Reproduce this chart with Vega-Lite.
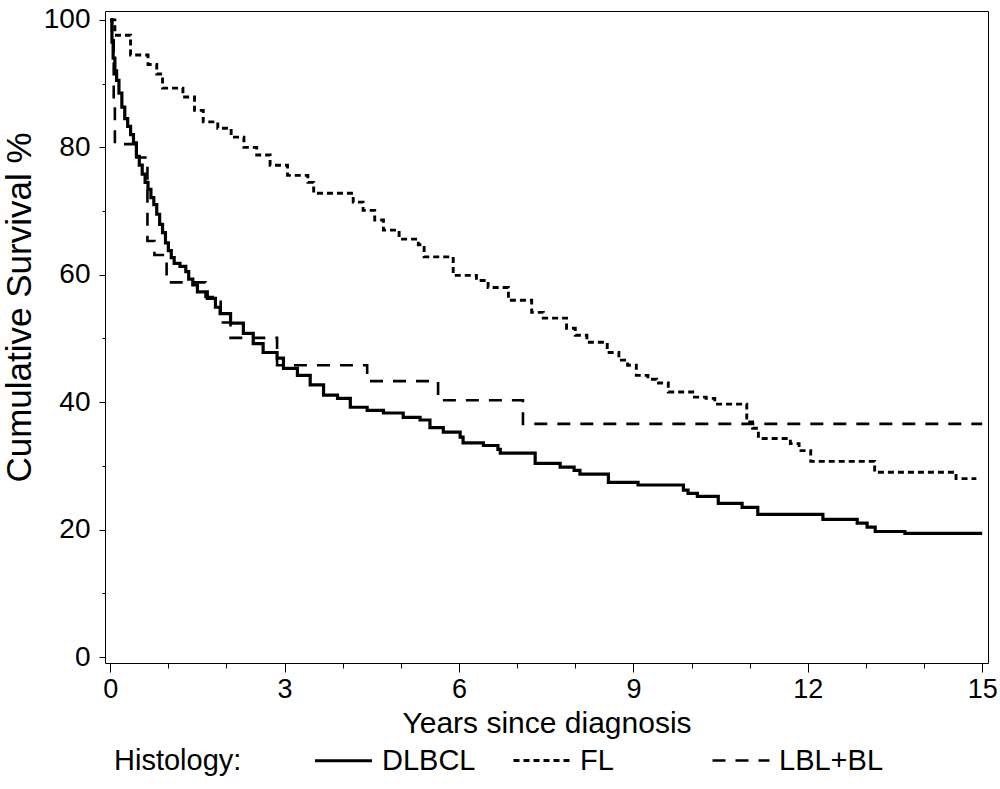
{
  "$schema": "https://vega.github.io/schema/vega-lite/v6.json",
  "width": 883,
  "height": 652,
  "autosize": {"type": "none"},
  "padding": {"left": 105, "top": 11, "right": 12, "bottom": 126},
  "background": "white",
  "data": {
    "values": [
      {"g": "DLBCL", "t": 0, "s": 100},
      {"g": "DLBCL", "t": 0.03, "s": 96.5},
      {"g": "DLBCL", "t": 0.05, "s": 94},
      {"g": "DLBCL", "t": 0.08, "s": 92},
      {"g": "DLBCL", "t": 0.11, "s": 90.5},
      {"g": "DLBCL", "t": 0.15, "s": 88.5},
      {"g": "DLBCL", "t": 0.2, "s": 86.3},
      {"g": "DLBCL", "t": 0.25, "s": 84.5},
      {"g": "DLBCL", "t": 0.3, "s": 83.3},
      {"g": "DLBCL", "t": 0.35, "s": 82},
      {"g": "DLBCL", "t": 0.4, "s": 80.7},
      {"g": "DLBCL", "t": 0.45, "s": 78.6},
      {"g": "DLBCL", "t": 0.5, "s": 77.2},
      {"g": "DLBCL", "t": 0.55, "s": 75.8},
      {"g": "DLBCL", "t": 0.6, "s": 74.5},
      {"g": "DLBCL", "t": 0.65, "s": 73.4},
      {"g": "DLBCL", "t": 0.7, "s": 72.1},
      {"g": "DLBCL", "t": 0.75, "s": 71},
      {"g": "DLBCL", "t": 0.8, "s": 69.5},
      {"g": "DLBCL", "t": 0.85, "s": 67.9},
      {"g": "DLBCL", "t": 0.9, "s": 66.6},
      {"g": "DLBCL", "t": 0.95, "s": 65},
      {"g": "DLBCL", "t": 1.0, "s": 63.8},
      {"g": "DLBCL", "t": 1.05, "s": 62.7},
      {"g": "DLBCL", "t": 1.1, "s": 61.8},
      {"g": "DLBCL", "t": 1.2, "s": 61.3},
      {"g": "DLBCL", "t": 1.3, "s": 60.5},
      {"g": "DLBCL", "t": 1.35, "s": 59.3},
      {"g": "DLBCL", "t": 1.42, "s": 58.4},
      {"g": "DLBCL", "t": 1.5, "s": 57.3},
      {"g": "DLBCL", "t": 1.67, "s": 56.3},
      {"g": "DLBCL", "t": 1.81, "s": 54.9},
      {"g": "DLBCL", "t": 1.89, "s": 53.9},
      {"g": "DLBCL", "t": 2.07, "s": 52.4},
      {"g": "DLBCL", "t": 2.29, "s": 50.8},
      {"g": "DLBCL", "t": 2.46, "s": 49.2},
      {"g": "DLBCL", "t": 2.63, "s": 47.8},
      {"g": "DLBCL", "t": 2.87, "s": 46.9},
      {"g": "DLBCL", "t": 2.98, "s": 45.3},
      {"g": "DLBCL", "t": 3.22, "s": 44.2},
      {"g": "DLBCL", "t": 3.44, "s": 42.7},
      {"g": "DLBCL", "t": 3.67, "s": 41.1},
      {"g": "DLBCL", "t": 3.91, "s": 40.6},
      {"g": "DLBCL", "t": 4.13, "s": 39.2},
      {"g": "DLBCL", "t": 4.42, "s": 38.7},
      {"g": "DLBCL", "t": 4.7, "s": 38.3},
      {"g": "DLBCL", "t": 5.04, "s": 37.6},
      {"g": "DLBCL", "t": 5.33, "s": 37.2},
      {"g": "DLBCL", "t": 5.5, "s": 36},
      {"g": "DLBCL", "t": 5.73, "s": 35.3},
      {"g": "DLBCL", "t": 6.02, "s": 34.5},
      {"g": "DLBCL", "t": 6.07, "s": 33.6},
      {"g": "DLBCL", "t": 6.42, "s": 33.2},
      {"g": "DLBCL", "t": 6.67, "s": 32.6},
      {"g": "DLBCL", "t": 6.71, "s": 32},
      {"g": "DLBCL", "t": 7.31, "s": 30.4},
      {"g": "DLBCL", "t": 7.74, "s": 29.8},
      {"g": "DLBCL", "t": 7.98, "s": 29.3},
      {"g": "DLBCL", "t": 8.08, "s": 28.7},
      {"g": "DLBCL", "t": 8.57, "s": 27.4},
      {"g": "DLBCL", "t": 9.08, "s": 27},
      {"g": "DLBCL", "t": 9.86, "s": 26.2},
      {"g": "DLBCL", "t": 9.94, "s": 25.7},
      {"g": "DLBCL", "t": 10.1, "s": 25.2},
      {"g": "DLBCL", "t": 10.46, "s": 24.1},
      {"g": "DLBCL", "t": 10.87, "s": 23.5},
      {"g": "DLBCL", "t": 11.14, "s": 22.4},
      {"g": "DLBCL", "t": 12.26, "s": 21.6},
      {"g": "DLBCL", "t": 12.85, "s": 21},
      {"g": "DLBCL", "t": 13.02, "s": 20.4},
      {"g": "DLBCL", "t": 13.16, "s": 19.7},
      {"g": "DLBCL", "t": 13.67, "s": 19.4},
      {"g": "DLBCL", "t": 15, "s": 19.4},

      {"g": "FL", "t": 0, "s": 100},
      {"g": "FL", "t": 0.08, "s": 97.6},
      {"g": "FL", "t": 0.35, "s": 94.5},
      {"g": "FL", "t": 0.65, "s": 93},
      {"g": "FL", "t": 0.8, "s": 91.5},
      {"g": "FL", "t": 0.9, "s": 89.3},
      {"g": "FL", "t": 1.25, "s": 87.9},
      {"g": "FL", "t": 1.45, "s": 85.8},
      {"g": "FL", "t": 1.6, "s": 84},
      {"g": "FL", "t": 1.85, "s": 83},
      {"g": "FL", "t": 2.08, "s": 81.6},
      {"g": "FL", "t": 2.3, "s": 80},
      {"g": "FL", "t": 2.52, "s": 78.8},
      {"g": "FL", "t": 2.75, "s": 77.2},
      {"g": "FL", "t": 3.05, "s": 75.6},
      {"g": "FL", "t": 3.4, "s": 74.5},
      {"g": "FL", "t": 3.5, "s": 72.8},
      {"g": "FL", "t": 4.18, "s": 71.4},
      {"g": "FL", "t": 4.35, "s": 70.1},
      {"g": "FL", "t": 4.55, "s": 68.6},
      {"g": "FL", "t": 4.7, "s": 67},
      {"g": "FL", "t": 4.97, "s": 65.6},
      {"g": "FL", "t": 5.3, "s": 64.7},
      {"g": "FL", "t": 5.4, "s": 62.8},
      {"g": "FL", "t": 5.9, "s": 59.9},
      {"g": "FL", "t": 6.3, "s": 59.1},
      {"g": "FL", "t": 6.5, "s": 58},
      {"g": "FL", "t": 6.85, "s": 56},
      {"g": "FL", "t": 7.25, "s": 54.1},
      {"g": "FL", "t": 7.45, "s": 53.2},
      {"g": "FL", "t": 7.85, "s": 51.6},
      {"g": "FL", "t": 8.0, "s": 50.5},
      {"g": "FL", "t": 8.2, "s": 49.4},
      {"g": "FL", "t": 8.55, "s": 47.8},
      {"g": "FL", "t": 8.75, "s": 46.6},
      {"g": "FL", "t": 8.9, "s": 45.8},
      {"g": "FL", "t": 9.05, "s": 44.2},
      {"g": "FL", "t": 9.25, "s": 43.6},
      {"g": "FL", "t": 9.4, "s": 43},
      {"g": "FL", "t": 9.6, "s": 41.6},
      {"g": "FL", "t": 10.05, "s": 40.8},
      {"g": "FL", "t": 10.25, "s": 40.6},
      {"g": "FL", "t": 10.4, "s": 39.7},
      {"g": "FL", "t": 10.95, "s": 36.9},
      {"g": "FL", "t": 11.05, "s": 35.9},
      {"g": "FL", "t": 11.15, "s": 34.3},
      {"g": "FL", "t": 11.7, "s": 33.5},
      {"g": "FL", "t": 11.85, "s": 32.4},
      {"g": "FL", "t": 12.05, "s": 30.7},
      {"g": "FL", "t": 13.15, "s": 29},
      {"g": "FL", "t": 14.55, "s": 28},
      {"g": "FL", "t": 14.9, "s": 28},

      {"g": "LBL+BL", "t": 0, "s": 100},
      {"g": "LBL+BL", "t": 0.03, "s": 96.8},
      {"g": "LBL+BL", "t": 0.06, "s": 87},
      {"g": "LBL+BL", "t": 0.08, "s": 80.5},
      {"g": "LBL+BL", "t": 0.45, "s": 78.4},
      {"g": "LBL+BL", "t": 0.64, "s": 65.3},
      {"g": "LBL+BL", "t": 0.76, "s": 63.1},
      {"g": "LBL+BL", "t": 0.97, "s": 58.8},
      {"g": "LBL+BL", "t": 1.64, "s": 56.5},
      {"g": "LBL+BL", "t": 1.9, "s": 52.5},
      {"g": "LBL+BL", "t": 2.07, "s": 50.1},
      {"g": "LBL+BL", "t": 2.87, "s": 45.8},
      {"g": "LBL+BL", "t": 4.42, "s": 43.3},
      {"g": "LBL+BL", "t": 5.64, "s": 40.3},
      {"g": "LBL+BL", "t": 7.1, "s": 36.6},
      {"g": "LBL+BL", "t": 15, "s": 36.6}
    ]
  },
  "mark": {"type": "line", "interpolate": "step-after", "color": "black"},
  "encoding": {
    "x": {
      "field": "t",
      "type": "quantitative",
      "scale": {"domain": [-0.09, 15.1], "nice": false, "zero": false},
      "axis": {
        "title": "Years since diagnosis",
        "values": [0,1,2,3,4,5,6,7,8,9,10,11,12,13,14,15],
        "labelExpr": "datum.value % 3 === 0 ? datum.label : ''",
        "tickSize": {"condition": {"test": "datum.value % 3 === 0", "value": 9}, "value": 5},
        "labelPadding": 4,
        "titlePadding": 6,
        "titleFontSize": 30
      }
    },
    "y": {
      "field": "s",
      "type": "quantitative",
      "scale": {"domain": [-0.94, 101.4], "nice": false, "zero": false},
      "axis": {
        "title": "Cumulative Survival %",
        "values": [0,10,20,30,40,50,60,70,80,90,100],
        "labelExpr": "datum.value % 20 === 0 ? datum.label : ''",
        "tickSize": {"condition": {"test": "datum.value % 20 === 0", "value": 6}, "value": 3},
        "labelPadding": 9,
        "labelFontSize": 28,
        "titlePadding": 6,
        "titleFontSize": 35,
        "titleY": 296
      }
    },
    "strokeDash": {
      "field": "g",
      "type": "nominal",
      "scale": {"domain": ["DLBCL", "FL", "LBL+BL"], "range": [[1, 0], [6, 4], [13, 10]]},
      "legend": {
        "title": "Histology:",
        "orient": "none",
        "legendX": 9,
        "legendY": 719,
        "direction": "horizontal",
        "titleOrient": "left",
        "titleAnchor": "end",
        "titleBaseline": "bottom",
        "gridAlign": "all",
        "columnPadding": 21,
        "symbolType": "stroke",
        "symbolSize": 3250,
        "symbolStrokeWidth": 2.6,
        "symbolStrokeColor": "black",
        "labelOffset": 8,
        "titlePadding": 71
      }
    },
    "strokeWidth": {
      "field": "g",
      "type": "nominal",
      "scale": {"domain": ["DLBCL", "FL", "LBL+BL"], "range": [3.2, 2.6, 2.8]},
      "legend": null
    }
  },
  "config": {
    "font": "Liberation Sans",
    "view": {"stroke": "black", "strokeWidth": 1},
    "axis": {
      "domain": false,
      "grid": false,
      "tickColor": "black",
      "tickWidth": 1,
      "labelColor": "black",
      "labelFont": "Liberation Sans",
      "labelFontSize": 27,
      "titleFont": "Liberation Sans",
      "titleFontSize": 28,
      "titleFontWeight": "normal",
      "titleColor": "black"
    },
    "legend": {
      "padding": 0,
      "labelFont": "Liberation Sans",
      "labelFontSize": 29,
      "labelColor": "black",
      "titleFont": "Liberation Sans",
      "titleFontSize": 29,
      "titleFontWeight": "normal",
      "titleColor": "black",
      "labelLimit": 400,
      "titleLimit": 400
    }
  }
}
